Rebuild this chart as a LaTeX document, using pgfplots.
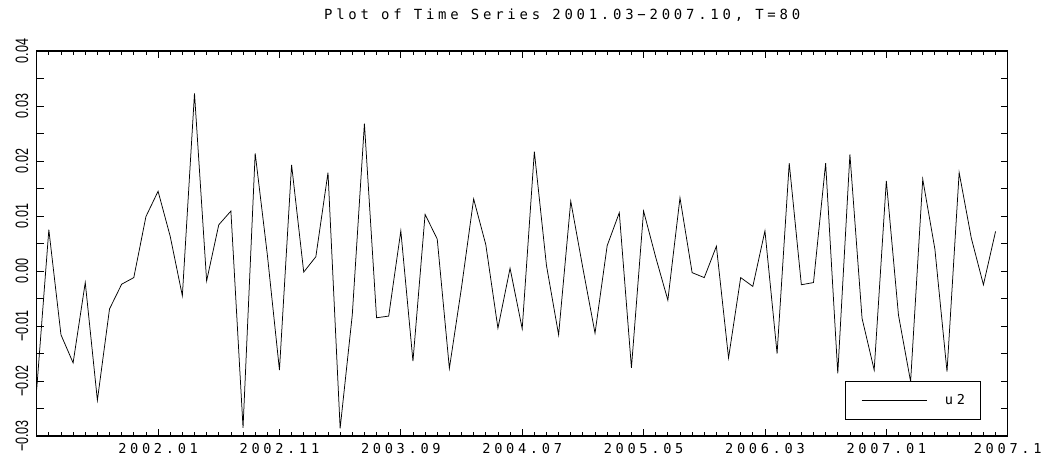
\documentclass[border=0pt]{standalone}
\usepackage{fontspec}
\usepackage{graphicx}
\usepackage{pgfplots}
\usepackage{pgfplotstable}
\pgfplotsset{compat=1.18}
\newfontfamily\gf[LetterSpace=27]{DejaVu Sans Mono}
\newfontfamily\yf{Liberation Sans}
\newcommand\yl[1]{\scalebox{0.7}[1]{#1}}

\pgfplotstableread{
i v
0 -0.0215
1 0.0075
2 -0.0116
3 -0.0167
4 -0.0021
5 -0.0235
6 -0.0069
7 -0.0024
8 -0.0012
9 0.0099
10 0.0145
11 0.0063
12 -0.0045
13 0.0323
14 -0.0018
15 0.0084
16 0.0109
17 -0.0285
18 0.0214
19 0.0030
20 -0.0180
21 0.0193
22 -0.0002
23 0.0026
24 0.0179
25 -0.0286
26 -0.0080
27 0.0268
28 -0.0085
29 -0.0082
30 0.0073
31 -0.0164
32 0.0103
33 0.0058
34 -0.0177
35 -0.0030
36 0.0131
37 0.0048
38 -0.0104
39 0.0005
40 -0.0105
41 0.0217
42 0.0010
43 -0.0116
44 0.0127
45 0.0005
46 -0.0113
47 0.0046
48 0.0106
49 -0.0176
50 0.0109
51 0.0025
52 -0.0053
53 0.0133
54 -0.0003
55 -0.0012
56 0.0045
57 -0.0158
58 -0.0012
59 -0.0028
60 0.0073
61 -0.0150
62 0.0196
63 -0.0025
64 -0.0021
65 0.0196
66 -0.0186
67 0.0212
68 -0.0086
69 -0.0180
70 0.0164
71 -0.0080
72 -0.0201
73 0.0167
74 0.0040
75 -0.0183
76 0.0179
77 0.0060
78 -0.0025
79 0.0072
}\series

\begin{document}
\begin{tikzpicture}
\useasboundingbox (0,0) rectangle (1045bp,466bp);
\begin{axis}[
  at={(36.7bp,30bp)}, anchor=south west,
  scale only axis, width=971bp, height=385bp,
  xmin=0, xmax=80, ymin=-0.03, ymax=0.04,
  scaled y ticks=false,
  xtick={0,10,20,30,40,50,60,70,80},
  xticklabels={,2002.01,2002.11,2003.09,2004.07,2005.05,2006.03,2007.01,2007.1},
  minor x tick num=9,
  ytick={-0.03,-0.02,-0.01,0,0.01,0.02,0.03,0.04},
  yticklabels={\yl{−0.03},\yl{−0.02},\yl{−0.01},\yl{0.00},\yl{0.01},\yl{0.02},\yl{0.03},\yl{0.04}},
  extra y ticks={-0.025,-0.015,-0.005,0.005,0.015,0.025,0.035},
  extra y tick labels={},
  major tick length=7bp, minor tick length=4bp,
  every tick/.style={black, line width=0.8bp},
  axis line style={line width=1.4bp},
  xticklabel style={font=\gf\fontsize{13.7}{13.7}\selectfont, yshift=-3.5bp},
  yticklabel style={font=\yf\fontsize{18}{18}\selectfont, xshift=-5bp, rotate=90, anchor=south},
  every axis title/.style={at={(0.5,1)}, anchor=base, xshift=40bp, yshift=32bp, font=\gf\fontsize{14}{14}\selectfont},
  title={Plot of Time Series 2001.03−2007.10, T=80},
  legend style={at={(0.9725,0.0416)}, anchor=south east, draw=black, line width=0.8bp,
    inner xsep=15.5bp, inner ysep=13.5bp, font=\gf\fontsize{13.7}{13.7}\selectfont,
    nodes={inner sep=0pt}, column sep=18bp},
  legend image code/.code={\draw[#1] (0bp,0bp) -- (65bp,0bp);},
]
\addplot[black, line width=0.75bp] table[x=i, y=v] {\series};
\addlegendentry{u2}
\end{axis}
\end{tikzpicture}
\end{document}
